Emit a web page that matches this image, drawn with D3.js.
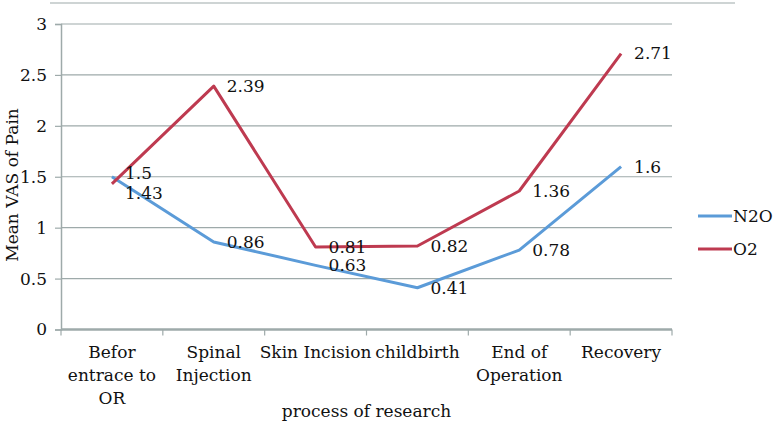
<!DOCTYPE html>
<html><head><meta charset="utf-8">
<script src="https://cdn.jsdelivr.net/npm/d3@7"></script>
<style>
html,body{margin:0;padding:0;background:#fff;}
svg{display:block;}
text{font-family:"DejaVu Serif",serif;fill:#111;}
</style></head>
<body>
<svg id="c" width="777" height="435"></svg>
<script>
const categories = ["Befor\nentrace to\nOR","Spinal\nInjection","Skin Incision","childbirth","End of\nOperation","Recovery"];
const n2o = [1.5, 0.86, 0.63, 0.41, 0.78, 1.6];
const o2  = [1.43, 2.39, 0.81, 0.82, 1.36, 2.71];
const yTicks = [0, 0.5, 1, 1.5, 2, 2.5, 3];
const yTickLabels = ["0","0.5","1","1.5","2","2.5","3"];
const seriesNames = ["N2O","O2"];
const seriesColors = ["#5B9BD8","#BE3A50"];

const svg = d3.select("#c");
const M = {left:61, right:672, top:24, bottom:329.5};
const FS = 17;
const x = d3.scaleBand().domain(categories).range([M.left, M.right]).paddingInner(0).paddingOuter(0);
const y = d3.scaleLinear().domain([0,3]).range([M.bottom, M.top]);
const grid = "#9eaaaa";

// top border line
svg.append("line").attr("x1",50).attr("x2",735).attr("y1",3).attr("y2",3).attr("stroke",grid).attr("stroke-width",1.2);

// gridlines
svg.append("g").selectAll("line").data(yTicks.filter(d=>d>0)).join("line")
  .attr("x1",M.left).attr("x2",M.right).attr("y1",d=>y(d)).attr("y2",d=>y(d))
  .attr("stroke",grid).attr("stroke-width",1.2);

// y axis
const ya = svg.append("g").attr("transform",`translate(${M.left},0)`)
  .call(d3.axisLeft(y).tickValues(yTicks).tickFormat((d,i)=>yTickLabels[i]).tickSize(6).tickPadding(8));
ya.select(".domain").attr("stroke",grid).attr("stroke-width",1.5);
ya.selectAll(".tick line").attr("stroke",grid).attr("stroke-width",1.2);
ya.selectAll(".tick text").attr("font-size",FS).attr("font-family","DejaVu Serif").attr("fill","#111");

// x axis
const xa = svg.append("g").attr("transform",`translate(0,${M.bottom})`)
  .call(d3.axisBottom(x).tickSize(0).tickFormat(""));
xa.select(".domain").attr("stroke",grid).attr("stroke-width",2.5).attr("d",`M${M.left},0H${M.right}`);
// boundary tick marks
const bounds = categories.map(c=>x(c)).concat([M.right]);
svg.append("g").selectAll("line").data(bounds).join("line")
  .attr("x1",d=>d).attr("x2",d=>d).attr("y1",M.bottom).attr("y2",M.bottom+6)
  .attr("stroke",grid).attr("stroke-width",1.2);
// category labels
const cl = svg.append("g");
categories.forEach(c=>{
  const lines = c.split("\n");
  const t = cl.append("text").attr("text-anchor","middle").attr("font-size",FS)
    .attr("x", x(c)+x.bandwidth()/2).attr("y", 358);
  lines.forEach((ln,i)=>t.append("tspan").attr("x",x(c)+x.bandwidth()/2).attr("dy", i===0?0:23).text(ln));
});

// axis titles
svg.append("text").attr("x",(M.left+M.right)/2).attr("y",417).attr("text-anchor","middle").attr("font-size",FS).text("process of research");
svg.append("text").attr("transform","translate(18,185) rotate(-90)").attr("text-anchor","middle").attr("font-size",FS).text("Mean VAS of Pain");

// lines
const cx = c => x(c)+x.bandwidth()/2;
const line = d3.line().x((d,i)=>cx(categories[i])).y(d=>y(d));
[n2o,o2].forEach((s,k)=>{
  svg.append("path").datum(s).attr("d",line).attr("fill","none")
    .attr("stroke",seriesColors[k]).attr("stroke-width",3).attr("stroke-linejoin","round");
});

// data labels: right of point, vertically centered; avoid overlap at same category
const labels = [];
categories.forEach((c,i)=>{
  const a = {v:n2o[i], y:y(n2o[i])}, b = {v:o2[i], y:y(o2[i])};
  const pair = [a,b].sort((p,q)=>p.y-q.y);
  if (pair[1].y - pair[0].y < 15) { pair[0].y -= 4; pair[1].y = pair[0].y + 20; }
  pair.forEach(p=>labels.push({x:cx(c)+13, y:p.y, v:p.v}));
});
svg.append("g").selectAll("text").data(labels).join("text")
  .attr("x",d=>d.x).attr("y",d=>d.y).attr("dy","0.35em").attr("font-size",FS).text(d=>d.v);

// legend
const lg = svg.append("g");
seriesNames.forEach((nm,k)=>{
  const ly = 216 + k*33;
  lg.append("line").attr("x1",698).attr("x2",732).attr("y1",ly).attr("y2",ly).attr("stroke",seriesColors[k]).attr("stroke-width",3);
  lg.append("text").attr("x",733).attr("y",ly).attr("dy","0.35em").attr("font-size",FS).text(nm);
});
</script>
</body></html>
